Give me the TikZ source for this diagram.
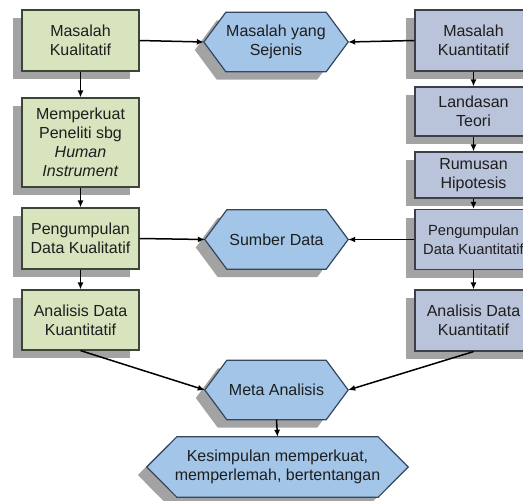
\documentclass[tikz,border=0pt]{standalone}
\usepackage{fontspec}
\setmainfont{Liberation Sans}
\usetikzlibrary{shadows,backgrounds,arrows.meta}
\definecolor{gfill}{HTML}{D7E4BD}
\definecolor{gborder}{HTML}{3C4536}
\definecolor{bfill}{HTML}{B9C3D9}
\definecolor{bborder}{HTML}{3A3F4A}
\definecolor{hfill}{HTML}{A2C5E8}
\definecolor{hborder}{HTML}{34475F}
\definecolor{txt}{HTML}{1E1E1E}
\begin{document}
\begin{tikzpicture}[x=1pt,y=-1pt,
  every node/.style={font=\fontsize{16}{19}\selectfont, align=center, inner sep=1pt, text=txt},
  shad/.style={drop shadow={shadow xshift=-9pt,shadow yshift=-8pt,fill=black!36,opacity=1}},
  gbox/.style={draw=gborder, line width=1.2pt, fill=gfill, minimum width=117pt, shad},
  bbox/.style={draw=bborder, line width=1.2pt, fill=bfill, minimum width=117pt, shad},
  hexnode/.style={minimum height=59pt, inner sep=0pt},
  hexshape/.style={draw=hborder, line width=1.2pt, fill=hfill, shad},
  arr/.style={-{Latex[length=7pt,width=6pt]}, line width=1.5pt, black}]
\useasboundingbox (0,0) rectangle (523,501);
\clip (0,0) rectangle (523,501);

% left column
\node[gbox, minimum height=61pt] (lq1) at (80.5,40.5) {Masalah\\Kualitatif};
\node[gbox, minimum height=89pt] (lq2) at (80.5,142.5) {Memperkuat\\Peneliti sbg\\\textit{Human}\\\textit{Instrument}};
\node[gbox, minimum height=61pt] (lq3) at (80.5,238.5) {Pengumpulan\\Data Kualitatif};
\node[gbox, minimum height=60pt] (lq4) at (80.5,320) {Analisis Data\\Kuantitatif};

% right column
\node[bbox, minimum height=61pt] (r1) at (473.5,40.5) {Masalah\\Kuantitatif};
\node[bbox, minimum height=49pt] (r2) at (473.5,111.5) {Landasan\\Teori};
\node[bbox, minimum height=46pt] (r3) at (473.5,175) {Rumusan\\Hipotesis};
\node[bbox, minimum height=60pt, font=\fontsize{14.7}{19}\selectfont] (r4) at (473.5,239.5) {Pengumpulan\\Data Kuantitatif};
\node[bbox, minimum height=61pt] (r5) at (473.5,320.5) {Analisis Data\\Kuantitatif};

% hexagons (text nodes)
\node[hexnode, minimum width=144pt] (h1) at (276,42) {Masalah yang\\Sejenis};
\node[hexnode, minimum width=143pt] (h2) at (276.5,239.5) {Sumber Data};
\node[hexnode, minimum width=143pt] (h3) at (276.5,390) {Meta Analisis};
\node[hexnode, minimum width=261pt, minimum height=60pt] (h4) at (277.5,467) {Kesimpulan memperkuat,\\memperlemah, bertentangan};

\begin{scope}[on background layer]
\foreach \n/\a in {h1/22,h2/22,h3/22,h4/30}{
  \draw[hexshape] ([xshift=\a pt]\n.north west) -- ([xshift=-\a pt]\n.north east) -- (\n.east)
     -- ([xshift=-\a pt]\n.south east) -- ([xshift=\a pt]\n.south west) -- (\n.west) -- cycle;
}
\end{scope}

% connectors
\draw[arr] (lq1.east) -- (h1.west);
\draw[arr] (r1.west) -- (h1.east);
\draw[arr] (lq1.south) -- (lq2.north);
\draw[arr] (lq2.south) -- (lq3.north);
\draw[arr] (lq3.south) -- (lq4.north);
\draw[arr] (r1.south) -- (r2.north);
\draw[arr] (r2.south) -- (r3.north);
\draw[arr] (r3.south) -- (r4.north);
\draw[arr] (r4.south) -- (r5.north);
\draw[arr] (lq3.east) -- (h2.west);
\draw[arr] (r4.west) -- (h2.east);
\draw[arr] (lq4.south) -- (h3.west);
\draw[arr] (r5.south) -- (h3.east);
\draw[arr] (h3.south) -- (h4.north);
\end{tikzpicture}
\end{document}
